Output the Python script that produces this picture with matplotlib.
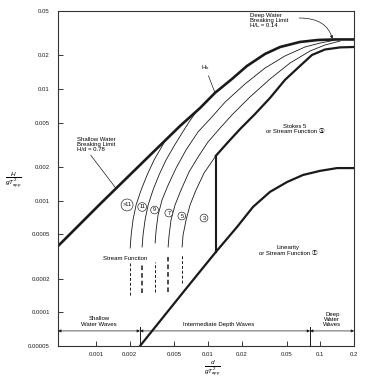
import matplotlib.pyplot as plt

plt.rcParams['font.family'] = ['Liberation Sans', 'Noto Sans CJK SC', 'DejaVu Sans']
plt.rcParams['mathtext.fontset'] = 'custom'
plt.rcParams['mathtext.rm'] = 'Liberation Sans'
plt.rcParams['mathtext.it'] = 'Liberation Sans:italic'

# relative depth d/gT^2 (x) and steepness H/gT^2 (y)
hb_d = [0.00046, 0.00109, 0.00304, 0.00562, 0.00847, 0.0115, 0.0163, 0.0222,
        0.0321, 0.0438, 0.0659, 0.0953, 0.135, 0.2]
hb_h = [0.000393, 0.000935, 0.00256, 0.00467, 0.00676, 0.00923, 0.0123, 0.0161,
        0.0206, 0.0238, 0.0264, 0.0275, 0.0278, 0.0278]

# stream function order boundaries (thin curves)
sf1_d = [0.00202, 0.00206, 0.00214, 0.00228, 0.00253, 0.00286, 0.00330, 0.00381, 0.00413]
sf1_h = [0.000377, 0.000493, 0.000672, 0.000916, 0.00125, 0.00170, 0.00232, 0.00297, 0.00343]

sf2_d = [0.00258, 0.00263, 0.00274, 0.00292, 0.00323, 0.00365, 0.00422, 0.00497,
         0.00586, 0.00676, 0.00781]
sf2_h = [0.000385, 0.000493, 0.000672, 0.000916, 0.00125, 0.00170, 0.00232, 0.00309,
         0.00404, 0.00507, 0.00623]

sf3_d = [0.00337, 0.00344, 0.00358, 0.00389, 0.00440, 0.00518, 0.00636, 0.00813,
         0.0108, 0.0142, 0.0213, 0.0321, 0.0485, 0.0730, 0.0993, 0.135]
sf3_h = [0.000418, 0.000547, 0.000745, 0.00102, 0.00138, 0.00196, 0.00285, 0.00413,
         0.00562, 0.00766, 0.0111, 0.0154, 0.0198, 0.0238, 0.0258, 0.0274]

sf4_d = [0.00440, 0.00449, 0.00467, 0.00507, 0.00574, 0.00676, 0.00813, 0.00998,
         0.0128, 0.0163, 0.0236, 0.0356, 0.0537, 0.0809, 0.110, 0.150]
sf4_h = [0.000385, 0.000493, 0.000672, 0.000916, 0.00125, 0.00181, 0.00246, 0.00336,
         0.00448, 0.00586, 0.00849, 0.0123, 0.0171, 0.0219, 0.0248, 0.0269]

sf5_d = [0.00586, 0.00598, 0.00636, 0.00690, 0.00781, 0.00920, 0.0117]
sf5_h = [0.000385, 0.000493, 0.000672, 0.000916, 0.00125, 0.00177, 0.00252]

# Stokes 5 limit
st_d = [0.0117, 0.0151, 0.0193, 0.0262, 0.0356, 0.0485, 0.0659, 0.0843, 0.110, 0.150, 0.2]
st_h = [0.00252, 0.00336, 0.00439, 0.00598, 0.00832, 0.0121, 0.0161, 0.0202, 0.0226,
        0.0236, 0.0238]

# linear theory limit
lin_d = [0.00247, 0.00623, 0.0117, 0.0181, 0.0251, 0.0356, 0.0505, 0.0701, 0.0993, 0.141, 0.2]
lin_h = [0.00005, 0.000159, 0.000347, 0.000582, 0.000879, 0.00120, 0.00147, 0.00170,
         0.00185, 0.00196, 0.00196]

vert_d = 0.0117
vert_h = [0.000347, 0.00252]

# dashed stream function extensions
dash_d = [0.00202, 0.00258, 0.00337, 0.00440, 0.00586]
dash_top = [0.000277, 0.000277, 0.000283, 0.000313, 0.000327]
dash_bot = [0.000143, 0.000149, 0.000152, 0.000152, 0.000183]

sf_labels = ['>11', '11', '9', '7', '5', '3']
shallow_lim = 0.00247
deep_lim = 0.081

xticks = [0.001, 0.002, 0.005, 0.01, 0.02, 0.05, 0.1, 0.2]
xticklabels = ['0.001', '0.002', '0.005', '0.01', '0.02', '0.05', '0.1', '0.2']
yticks = [0.00005, 0.0001, 0.0002, 0.0005, 0.001, 0.002, 0.005, 0.01, 0.02, 0.05]
yticklabels = ['0.00005', '0.0001', '0.0002', '0.0005', '0.001', '0.002', '0.005',
               '0.01', '0.02', '0.05']

ink = '#1a1a1a'
fs = 4.3

fig = plt.figure(figsize=(3.7, 3.83), dpi=100)
ax = fig.add_axes([0.157, 0.0966, 0.8, 0.8747])
ax.set_xscale('log')
ax.set_yscale('log')
ax.set_xlim(0.00046, 0.2)
ax.set_ylim(0.00005, 0.05)

ax.plot(hb_d, hb_h, color=ink, lw=1.9, solid_capstyle='butt')
for xd, yh in [(sf1_d, sf1_h), (sf2_d, sf2_h), (sf3_d, sf3_h), (sf4_d, sf4_h), (sf5_d, sf5_h)]:
    ax.plot(xd, yh, color=ink, lw=0.6)
ax.plot(st_d, st_h, color=ink, lw=1.6)
ax.plot(lin_d, lin_h, color=ink, lw=1.6)
ax.plot([vert_d, vert_d], vert_h, color=ink, lw=1.5)
for i, xd in enumerate(dash_d):
    ax.plot([xd, xd], [dash_bot[i], dash_top[i]], color=ink,
            lw=1.1 if i in (1, 3) else 0.7, ls=(0, (3, 2)))

# circled order labels
lab_pos = [(0.233, 0.421), (0.284, 0.415), (0.326, 0.406), (0.374, 0.397),
           (0.418, 0.388), (0.493, 0.382)]
for lab, (fx, fy) in zip(sf_labels, lab_pos):
    ax.text(fx, fy, lab, transform=ax.transAxes, fontsize=4.0, ha='center', va='center',
            bbox=dict(boxstyle='circle,pad=0.25', fc='white', ec=ink, lw=0.45))

ax.text(0.225, 0.262, 'Stream Function', transform=ax.transAxes, fontsize=fs,
        ha='center', va='center')
ax.text(0.80, 0.648, 'Stokes 5\nor Stream Function \u2462', transform=ax.transAxes,
        fontsize=fs, ha='center', va='center', linespacing=1.2)
ax.text(0.777, 0.284, 'Linearity\nor Stream Function \u2460', transform=ax.transAxes,
        fontsize=fs, ha='center', va='center', linespacing=1.2)

ax.annotate('Shallow Water\nBreaking Limit\nH/d = 0.78', xy=(0.00151, 0.00129),
            xytext=(0.064, 0.625), textcoords='axes fraction', fontsize=fs,
            ha='left', va='top', linespacing=1.1,
            arrowprops=dict(arrowstyle='-', lw=0.5, color=ink, shrinkA=0, shrinkB=0,
                            relpos=(0.3, 0.0)))
ax.annotate('H$_b$', xy=(0.0115, 0.0093), xytext=(0.497, 0.832),
            textcoords='axes fraction', fontsize=fs, ha='center', va='center',
            arrowprops=dict(arrowstyle='-', lw=0.5, color=ink, shrinkA=1, shrinkB=0))
ax.text(0.649, 0.995, 'Deep Water\nBreaking Limit\nH/L = 0.14', transform=ax.transAxes,
        fontsize=fs, ha='left', va='top', linespacing=1.1)
ax.annotate('', xy=(0.128, 0.0282), xytext=(0.815, 0.979), textcoords='axes fraction',
            arrowprops=dict(arrowstyle='-|>', lw=0.5, color=ink, mutation_scale=4,
                            shrinkA=0, shrinkB=0,
                            connectionstyle='angle3,angleA=0,angleB=-75'))

# wave regime bands along the bottom
tr = ax.get_xaxis_transform()
for xv in (shallow_lim, deep_lim):
    ax.plot([xv, xv], [0, 0.057], transform=tr, color=ink, lw=0.7, clip_on=False)
arrow_kw = dict(arrowstyle='<|-|>', lw=0.5, color=ink, mutation_scale=4, shrinkA=0, shrinkB=0)
ax.annotate('', xy=(0.00046, 0.045), xytext=(shallow_lim, 0.045), xycoords=tr, textcoords=tr,
            arrowprops=arrow_kw)
ax.annotate('', xy=(shallow_lim, 0.045), xytext=(deep_lim, 0.045), xycoords=tr, textcoords=tr,
            arrowprops=arrow_kw)
ax.annotate('', xy=(deep_lim, 0.045), xytext=(0.2, 0.045), xycoords=tr, textcoords=tr,
            arrowprops=arrow_kw)
ax.text(0.00107, 0.073, 'Shallow\nWater Waves', transform=tr, fontsize=fs,
        ha='center', va='center', linespacing=1.1)
ax.text(0.0125, 0.063, 'Intermediate Depth Waves', transform=tr, fontsize=fs,
        ha='center', va='center')
ax.text(0.128, 0.078, 'Deep\nWater\nWaves', transform=tr, fontsize=fs,
        ha='center', va='center', linespacing=1.0)

ax.minorticks_off()
ax.set_xticks(xticks)
ax.set_xticklabels(xticklabels)
ax.set_yticks(yticks)
ax.set_yticklabels(yticklabels)
ax.tick_params(direction='in', length=3.5, width=0.6, labelsize=fs, colors=ink)
ax.tick_params(axis='y', pad=6)
ax.tick_params(axis='x', pad=4.5)
for s in ax.spines.values():
    s.set_linewidth(0.8)
    s.set_color('#333333')

fig.text(0.035, 0.530, r'$\frac{H}{gT_{app}^{\ 2}}$', fontsize=6.5, ha='center', va='center')
fig.text(0.573, 0.039, r'$\frac{d}{gT_{app}^{\ 2}}$', fontsize=6.5, ha='center', va='center')

fig.savefig('out.png', dpi=100)
